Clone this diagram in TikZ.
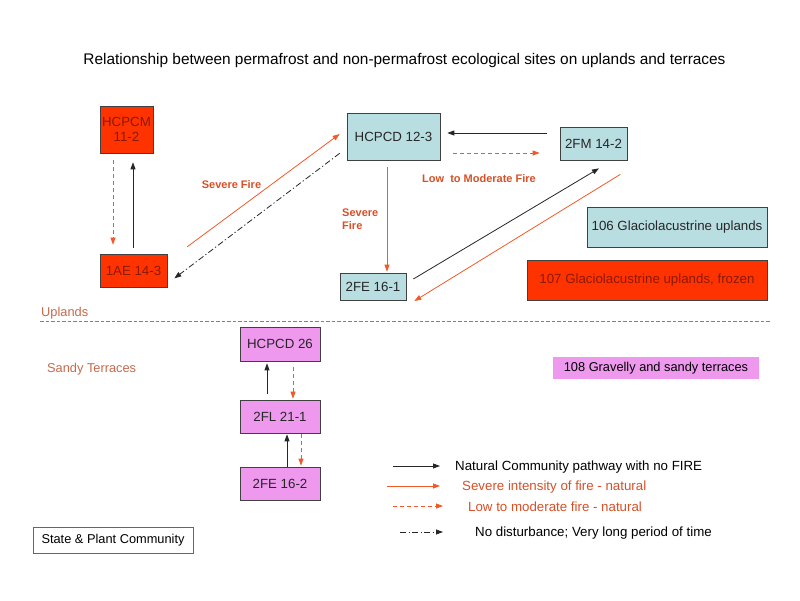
\documentclass[tikz,border=0pt]{standalone}
\usepackage{fontspec}
\setmainfont{Liberation Sans}
\usetikzlibrary{arrows.meta}
\definecolor{redfill}{RGB}{255,51,0}
\definecolor{redtext}{RGB}{140,25,5}
\definecolor{bluefill}{RGB}{185,222,226}
\definecolor{pinkfill}{RGB}{238,153,238}
\definecolor{arrred}{RGB}{240,90,40}
\definecolor{lblred}{RGB}{215,80,40}
\definecolor{zonetext}{RGB}{200,105,75}
\tikzset{
  box/.style={draw=black!75, line width=0.7pt, inner sep=0pt, align=center, font=\fontsize{13.3}{15.5}\selectfont},
  redbox/.style={box, fill=redfill, text=redtext},
  bluebox/.style={box, fill=bluefill, text=black!85},
  pinkbox/.style={box, fill=pinkfill, text=black!85},
  tip/.style={-{Triangle[length=7pt,width=5pt]}},
  natural/.style={tip, draw=black!85, line width=0.8pt},
  severe/.style={tip, draw=arrred, line width=0.8pt},
  lowfire/.style={tip, draw=arrred, line width=0.8pt, dash pattern=on 4pt off 3pt},
  nodist/.style={tip, draw=black!85, line width=0.8pt, dash pattern=on 6pt off 2.5pt on 1.2pt off 2.5pt},
  firelbl/.style={text=lblred, font=\bfseries\fontsize{11}{13}\selectfont},
  legtext/.style={anchor=west, inner sep=0pt, font=\fontsize{13.3}{15}\selectfont},
}
\begin{document}
\begin{tikzpicture}[x=1pt,y=-1pt]
\useasboundingbox[fill=white] (0,0) rectangle (800,600);
% title
\node[font=\fontsize{15.4}{18}\selectfont] (title) at (404.5,61) {Relationship between permafrost and non-permafrost ecological sites on uplands and terraces};
% state nodes
\node[redbox, minimum width=53pt, minimum height=47pt] (hcpcm) at (126.5,129.5) {HCPCM\\11-2};
\node[redbox, minimum width=67pt, minimum height=33pt] (ae) at (133.5,270.5) {1AE 14-3};
\node[bluebox, minimum width=93pt, minimum height=47pt] (hcpcd) at (393.5,136.5) {HCPCD 12-3};
\node[bluebox, minimum width=67pt, minimum height=33pt] (fm) at (593.5,143.5) {2FM 14-2};
\node[bluebox, minimum width=66pt, minimum height=27pt] (fe1) at (373,286.5) {2FE 16-1};
\node[bluebox, minimum width=180pt, minimum height=40pt] (g106) at (677,227) {106 Glaciolacustrine uplands};
\node[redbox, minimum width=240pt, minimum height=40pt] (g107) at (647,280) {107 Glaciolacustrine uplands, frozen};
\node[pinkbox, minimum width=80pt, minimum height=34pt] (hcpcd26) at (280,344) {HCPCD 26};
\node[pinkbox, minimum width=80pt, minimum height=33pt] (fl) at (280,416.5) {2FL 21-1};
\node[pinkbox, minimum width=80pt, minimum height=33pt] (fe2) at (280,483.5) {2FE 16-2};
\node[box, draw=none, fill=pinkfill, minimum width=206pt, minimum height=22pt, font=\fontsize{12.8}{15}\selectfont] (g108) at (656,368) {108 Gravelly and sandy terraces};
\node[box, draw=black!60, fill=white, minimum width=160pt, minimum height=26pt, font=\fontsize{12.8}{15}\selectfont] (state) at (113,540) {State \& Plant Community};
% zones
\node[anchor=west, inner sep=0pt, text=zonetext, font=\fontsize{12.8}{15}\selectfont] (uplands) at (41,313) {Uplands};
\node[anchor=west, inner sep=0pt, text=zonetext, font=\fontsize{12.8}{15}\selectfont] (sandy) at (47,369) {Sandy Terraces};
\coordinate (divl) at (40,321);
\coordinate (divr) at (770,321);
\draw[draw=arrred, line width=0.8pt, dash pattern=on 3.5pt off 2pt] (divl) -- (divr);
% connectors upper left
\draw[lowfire] ([xshift=-13.5pt,yshift=-7pt]hcpcm.south) -- ([xshift=-20.5pt,yshift=9pt]ae.north);
\draw[natural] ([xshift=-0.5pt,yshift=6pt]ae.north) -- ([xshift=6.5pt,yshift=-9pt]hcpcm.south);
\draw[severe] ([xshift=20pt,yshift=7pt]ae.north east) -- ([xshift=-7pt,yshift=2.5pt]hcpcd.west);
\draw[nodist] ([xshift=-7pt,yshift=7pt]hcpcd.south west) -- ([xshift=7pt,yshift=9pt]ae.south east);
\node[firelbl] (sf1) at (231.5,184.5) {Severe Fire};
% connectors around HCPCD 12-3
\draw[severe] ([xshift=-6.5pt,yshift=-7pt]hcpcd.south) -- ([xshift=14pt,yshift=1pt]fe1.north);
\node[firelbl, anchor=west, align=left, inner sep=0pt] (sf2) at (342,219) {Severe\\Fire};
\draw[natural] ([xshift=-13pt,yshift=10.5pt]fm.west) -- ([xshift=7pt,yshift=3.5pt]hcpcd.east);
\draw[lowfire] ([xshift=13pt,yshift=-16.5pt]hcpcd.east) -- ([xshift=-20pt,yshift=-9.5pt]fm.west);
\node[firelbl] (lmf) at (479,179) {Low\ \ to Moderate Fire};
\draw[natural] ([xshift=7pt,yshift=7.5pt]fe1.east) -- ([xshift=5.5pt,yshift=-8pt]fm.south);
\draw[severe] ([xshift=-7pt,yshift=-14pt]fm.south east) -- ([xshift=8pt,yshift=-14.5pt]fe1.east);
% sandy terraces connectors
\draw[natural] ([xshift=-13pt,yshift=6pt]fl.north) -- ([xshift=-13pt,yshift=-2pt]hcpcd26.south);
\draw[lowfire] ([xshift=13pt,yshift=-6pt]hcpcd26.south) -- ([xshift=13pt,yshift=1pt]fl.north);
\draw[natural] ([xshift=7pt]fe2.north) -- ([xshift=7pt,yshift=-1pt]fl.south);
\draw[lowfire] ([xshift=21pt,yshift=-1pt]fl.south) -- ([xshift=21pt,yshift=1pt]fe2.north);
% legend
\coordinate (l1a) at (393,466); \coordinate (l1b) at (440,466);
\coordinate (l2a) at (387,486); \coordinate (l2b) at (440,486);
\coordinate (l3a) at (393,506); \coordinate (l3b) at (443,506);
\coordinate (l4a) at (400,532); \coordinate (l4b) at (443,532);
\draw[natural] (l1a) -- (l1b);
\draw[severe] (l2a) -- (l2b);
\draw[lowfire] (l3a) -- (l3b);
\draw[nodist] (l4a) -- (l4b);
\node[legtext] (t1) at (455,467) {Natural Community pathway with no FIRE};
\node[legtext, text=lblred] (t2) at (462,487) {Severe intensity of fire - natural};
\node[legtext, text=lblred] (t3) at (468,507) {Low to moderate fire - natural};
\node[legtext] (t4) at (475,533) {No disturbance; Very long period of time};
\end{tikzpicture}
\end{document}
